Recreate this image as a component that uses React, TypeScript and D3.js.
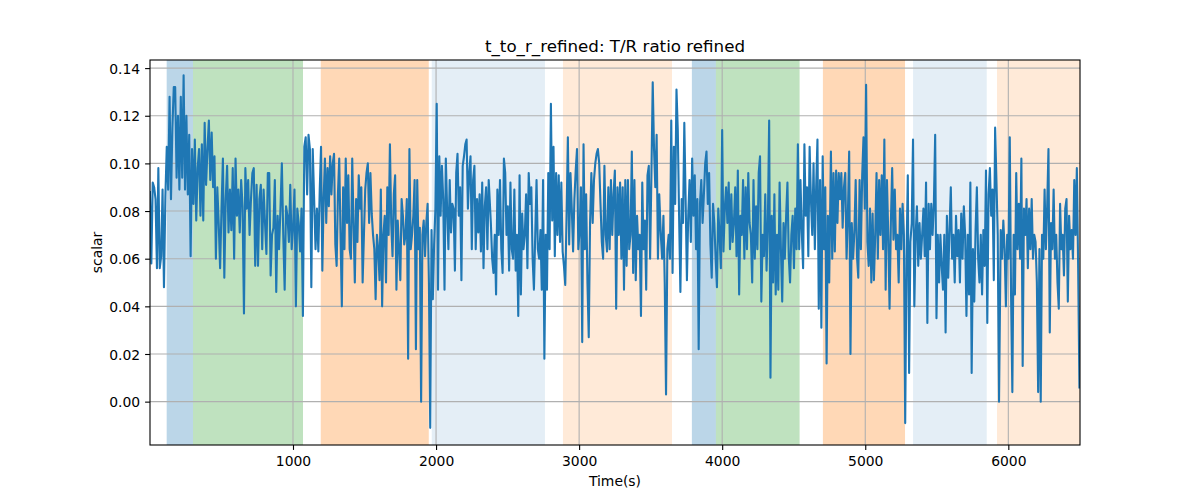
import { useEffect, useRef } from 'react';
import * as d3 from 'd3';

// T/R ratio samples in six stretches of time
const seg1 = [0.088, 0.058, 0.092, 0.09, 0.085, 0.056, 0.098, 0.056, 0.061, 0.089, 0.048, 0.086, 0.107, 0.089, 0.128, 0.085, 0.115, 0.132, 0.132, 0.094, 0.12, 0.089, 0.128, 0.094, 0.137, 0.089, 0.12, 0.087, 0.112, 0.061, 0.106, 0.083, 0.11, 0.076, 0.098, 0.106, 0.078, 0.108, 0.076, 0.117, 0.091, 0.106, 0.118, 0.093, 0.113, 0.09, 0.103, 0.06, 0.09, 0.075, 0.056, 0.081, 0.102, 0.052, 0.085, 0.099, 0.071, 0.089, 0.072, 0.098, 0.06, 0.102, 0.078, 0.089, 0.071, 0.093, 0.082, 0.037, 0.098, 0.081, 0.093, 0.07, 0.085, 0.096, 0.098, 0.057, 0.091, 0.057, 0.085, 0.091, 0.064, 0.089, 0.075, 0.062, 0.096, 0.096, 0.053, 0.07, 0.073, 0.093, 0.046, 0.078, 0.064, 0.081, 0.1, 0.07, 0.047, 0.082, 0.078, 0.067, 0.091, 0.064, 0.073, 0.089, 0.04, 0.081, 0.075, 0.063, 0.081, 0.036, 0.107, 0.111, 0.087, 0.112, 0.106, 0.048, 0.106, 0.085, 0.064, 0.081, 0.063, 0.089];
const seg2 = [0.107, 0.055, 0.085, 0.102, 0.075, 0.098, 0.082, 0.103, 0.087, 0.1, 0.104, 0.066, 0.057, 0.087, 0.102, 0.07, 0.04, 0.09, 0.064, 0.102, 0.075, 0.095, 0.064, 0.06, 0.102, 0.075, 0.05, 0.085, 0.067, 0.095, 0.081, 0.09, 0.05, 0.07, 0.089, 0.096, 0.1, 0.075, 0.096, 0.079, 0.07, 0.064, 0.043, 0.07, 0.064, 0.051, 0.089, 0.04, 0.07, 0.078, 0.05, 0.09, 0.07, 0.108, 0.075, 0.061, 0.087, 0.095, 0.047, 0.076, 0.064, 0.051, 0.085, 0.078, 0.066, 0.07, 0.085, 0.018, 0.106, 0.064, 0.07, 0.078, 0.093, 0.022, 0.093, 0.064, 0.073, 0.0, 0.07, 0.076, 0.061, 0.075, 0.083, 0.05, -0.011, 0.072, 0.043, 0.066, 0.081, 0.125, 0.047, 0.103, 0.078, 0.099, 0.085, 0.047, 0.102, 0.081, 0.064, 0.093, 0.071, 0.083, 0.081, 0.055, 0.096, 0.104, 0.078, 0.09, 0.051, 0.099, 0.103, 0.108, 0.11, 0.081, 0.096, 0.103, 0.064, 0.093, 0.099, 0.064, 0.085, 0.071, 0.087, 0.063, 0.092, 0.056, 0.082, 0.09, 0.064, 0.093];
const seg3 = [0.075, 0.06, 0.054, 0.07, 0.045, 0.089, 0.07, 0.093, 0.064, 0.054, 0.102, 0.096, 0.07, 0.082, 0.055, 0.092, 0.064, 0.06, 0.089, 0.055, 0.07, 0.036, 0.095, 0.045, 0.079, 0.064, 0.07, 0.087, 0.056, 0.096, 0.083, 0.09, 0.06, 0.047, 0.07, 0.093, 0.064, 0.06, 0.072, 0.047, 0.093, 0.018, 0.07, 0.047, 0.096, 0.064, 0.125, 0.076, 0.107, 0.061, 0.096, 0.07, 0.095, 0.067, 0.092, 0.063, 0.057, 0.049, 0.078, 0.111, 0.066, 0.096, 0.081, 0.063, 0.085, 0.097, 0.106, 0.064, 0.072, 0.09, 0.025, 0.108, 0.064, 0.087, 0.05, 0.027, 0.075, 0.096, 0.075, 0.093, 0.1, 0.104, 0.106, 0.1, 0.083, 0.067, 0.06, 0.099, 0.07, 0.063, 0.09, 0.064, 0.093, 0.07, 0.087, 0.097, 0.039, 0.09, 0.07, 0.092, 0.06, 0.09, 0.047, 0.093, 0.057, 0.093, 0.064, 0.07, 0.105, 0.054, 0.093, 0.051, 0.078, 0.064, 0.07, 0.036, 0.092, 0.064, 0.076, 0.047, 0.095, 0.099, 0.06, 0.095, 0.134, 0.106, 0.09, 0.112, 0.06, 0.087];
const seg4 = [0.07, 0.06, 0.078, 0.05, 0.003, 0.064, 0.07, 0.06, 0.118, 0.054, 0.107, 0.083, 0.131, 0.114, 0.078, 0.046, 0.085, 0.075, 0.117, 0.085, 0.051, 0.078, 0.093, 0.067, 0.102, 0.078, 0.095, 0.064, 0.085, 0.022, 0.083, 0.093, 0.075, 0.087, 0.1, 0.105, 0.083, 0.096, 0.066, 0.052, 0.083, 0.075, 0.06, 0.048, 0.081, 0.07, 0.056, 0.114, 0.063, 0.081, 0.09, 0.075, 0.092, 0.064, 0.087, 0.067, 0.075, 0.09, 0.061, 0.097, 0.045, 0.078, 0.07, 0.093, 0.06, 0.09, 0.064, 0.096, 0.075, 0.07, 0.05, 0.093, 0.06, 0.082, 0.064, 0.096, 0.103, 0.042, 0.07, 0.061, 0.087, 0.055, 0.075, 0.118, 0.01, 0.078, 0.05, 0.087, 0.045, 0.07, 0.047, 0.092, 0.064, 0.042, 0.075, 0.06, 0.078, 0.092, 0.061, 0.05, 0.07, 0.078, 0.056, 0.081, 0.064, 0.108, 0.064, 0.093, 0.071, 0.056, 0.108, 0.078, 0.09, 0.061, 0.107, 0.085, 0.07, 0.1, 0.064, 0.09, 0.11, 0.039, 0.093, 0.031, 0.103, 0.064, 0.09, 0.016, 0.078, 0.05];
const seg5 = [0.105, 0.06, 0.096, 0.063, 0.097, 0.075, 0.096, 0.085, 0.096, 0.073, 0.09, 0.096, 0.06, 0.078, 0.105, 0.02, 0.075, 0.06, 0.071, 0.093, 0.061, 0.052, 0.093, 0.064, 0.095, 0.111, 0.081, 0.133, 0.067, 0.057, 0.081, 0.05, 0.079, 0.051, 0.07, 0.096, 0.06, 0.093, 0.07, 0.095, 0.064, 0.11, 0.047, 0.093, 0.07, 0.039, 0.075, 0.098, 0.068, 0.089, 0.064, 0.07, 0.05, 0.081, 0.064, 0.083, 0.07, -0.009, 0.061, 0.095, 0.012, 0.067, 0.075, 0.11, 0.04, 0.07, 0.082, 0.057, 0.075, 0.06, 0.07, 0.081, 0.061, 0.092, 0.033, 0.083, 0.064, 0.083, 0.07, 0.083, 0.112, 0.035, 0.07, 0.05, 0.07, 0.057, 0.047, 0.07, 0.029, 0.078, 0.052, 0.072, 0.09, 0.06, 0.07, 0.05, 0.078, 0.061, 0.072, 0.05, 0.079, 0.06, 0.082, 0.07, 0.036, 0.07, 0.045, 0.092, 0.012, 0.064, 0.042, 0.072, 0.09, 0.06, 0.05, 0.07, 0.045, 0.072, 0.057, 0.097, 0.033, 0.087, 0.098, 0.078, 0.089, 0.051, 0.115, 0.093, 0.07, 0.0];
const seg6 = [0.072, 0.06, 0.076, 0.064, 0.04, 0.07, 0.06, 0.111, 0.045, 0.004, 0.07, 0.045, 0.096, 0.064, 0.083, 0.06, 0.102, 0.015, 0.081, 0.07, 0.085, 0.056, 0.081, 0.064, 0.085, 0.06, 0.07, 0.067, 0.05, 0.004, 0.064, 0.0, 0.07, 0.06, 0.089, 0.064, 0.082, 0.106, 0.029, 0.075, 0.064, 0.089, 0.06, 0.07, 0.05, 0.039, 0.083, 0.064, 0.07, 0.053, 0.081, 0.085, 0.042, 0.078, 0.064, 0.072, 0.06, 0.093, 0.07, 0.098, 0.057, 0.006];

// first and last sample time (s) of each stretch, samples evenly spaced between
const segStart = [0, 1196, 2383, 3571, 4760, 5947];
const segEnd = [1187, 2368, 3560, 4748, 5935, 6497];

// shaded phases
const spanStart = [117, 301, 1194, 1970, 2887, 3788, 3956, 4704, 5334, 5921];
const spanEnd = [301, 1070, 1949, 2761, 3649, 3956, 4541, 5278, 5849, 6510];
const spanPhase = ['a', 'b', 'c', 'd', 'e', 'a', 'b', 'c', 'd', 'e'];

const xTicks = [1000, 2000, 3000, 4000, 5000, 6000];
const yTicks = [0, 0.02, 0.04, 0.06, 0.08, 0.1, 0.12, 0.14];

const phaseFill: Record<string, [string, number]> = {
  a: ['#1f77b4', 0.3],
  b: ['#2ca02c', 0.3],
  c: ['#ff7f0e', 0.3],
  d: ['#1f77b4', 0.12],
  e: ['#ff7f0e', 0.16],
};

export default function App() {
  const svgRef = useRef<SVGSVGElement>(null);

  useEffect(() => {
    if (!svgRef.current) return;
    const svg = d3.select(svgRef.current);
    svg.selectAll('*').remove();

    const width = 1200;
    const height = 500;
    const margin = { top: 60, right: 120, bottom: 55, left: 150 };
    const innerWidth = width - margin.left - margin.right;
    const innerHeight = height - margin.top - margin.bottom;
    const font = 'DejaVu Sans, sans-serif';

    const segs = [seg1, seg2, seg3, seg4, seg5, seg6];
    const points: { t: number; v: number }[] = [];
    segs.forEach((vals, i) => {
      const step = (segEnd[i] - segStart[i]) / (vals.length - 1);
      vals.forEach((v, j) => points.push({ t: segStart[i] + j * step, v }));
    });

    const x = d3.scaleLinear().domain([0.5, 6501]).range([0, innerWidth]);
    const y = d3.scaleLinear().domain([-0.0182, 0.1434]).range([innerHeight, 0]);

    svg.append('rect').attr('width', width).attr('height', height).attr('fill', '#ffffff');

    const g = svg.append('g').attr('transform', `translate(${margin.left},${margin.top})`);

    g.append('defs').append('clipPath').attr('id', 'plot-clip')
      .append('rect').attr('width', innerWidth).attr('height', innerHeight);

    const plot = g.append('g').attr('clip-path', 'url(#plot-clip)');

    // phase spans
    plot.selectAll('.span')
      .data(spanStart.map((s, i) => ({ s, e: spanEnd[i], p: spanPhase[i] })))
      .enter().append('rect')
      .attr('x', d => x(d.s))
      .attr('width', d => x(d.e) - x(d.s))
      .attr('y', 0)
      .attr('height', innerHeight)
      .attr('fill', d => phaseFill[d.p][0])
      .attr('fill-opacity', d => phaseFill[d.p][1]);

    // grid
    plot.selectAll('.vgrid')
      .data(xTicks).enter().append('line')
      .attr('x1', d => x(d)).attr('x2', d => x(d))
      .attr('y1', 0).attr('y2', innerHeight)
      .attr('stroke', '#b0b0b0').attr('stroke-width', 1.1);
    plot.selectAll('.hgrid')
      .data(yTicks).enter().append('line')
      .attr('x1', 0).attr('x2', innerWidth)
      .attr('y1', d => y(d)).attr('y2', d => y(d))
      .attr('stroke', '#b0b0b0').attr('stroke-width', 1.1);

    const line = d3.line<{ t: number; v: number }>()
      .x(d => x(d.t))
      .y(d => y(d.v));

    plot.append('path')
      .datum(points)
      .attr('d', line)
      .attr('fill', 'none')
      .attr('stroke', '#1f77b4')
      .attr('stroke-width', 2.1)
      .attr('stroke-linejoin', 'round')
      .attr('stroke-linecap', 'square');

    // axes
    const xAxis = g.append('g')
      .attr('transform', `translate(0,${innerHeight})`)
      .call(d3.axisBottom(x).tickValues(xTicks).tickSize(4.9).tickPadding(5).tickFormat(d3.format('d')));
    const yAxis = g.append('g')
      .call(d3.axisLeft(y).tickValues(yTicks).tickSize(4.9).tickPadding(5).tickFormat(d3.format('.2f')));

    [xAxis, yAxis].forEach(ax => {
      ax.select('.domain').remove();
      ax.selectAll('line').attr('stroke', '#000').attr('stroke-width', 1.1);
      ax.selectAll('text')
        .attr('fill', '#000')
        .style('font-family', font)
        .style('font-size', '13.9px');
    });
    xAxis.selectAll('text').attr('dy', '0.78em');
    yAxis.selectAll('text').attr('dy', '0.36em');

    // spines
    g.append('rect')
      .attr('width', innerWidth)
      .attr('height', innerHeight)
      .attr('fill', 'none')
      .attr('stroke', '#000')
      .attr('stroke-width', 1.1);

    svg.append('text')
      .attr('x', margin.left + innerWidth / 2)
      .attr('y', 51.5)
      .attr('text-anchor', 'middle')
      .style('font-family', font)
      .style('font-size', '16.7px')
      .text('t_to_r_refined: T/R ratio refined');

    svg.append('text')
      .attr('x', margin.left + innerWidth / 2)
      .attr('y', 486)
      .attr('text-anchor', 'middle')
      .style('font-family', font)
      .style('font-size', '13.9px')
      .text('Time(s)');

    svg.append('text')
      .attr('transform', `translate(102,${margin.top + innerHeight / 2}) rotate(-90)`)
      .attr('text-anchor', 'middle')
      .style('font-family', font)
      .style('font-size', '13.9px')
      .text('scalar');
  }, []);

  return (
    <svg
      ref={svgRef}
      width={1200}
      height={500}
      style={{ position: 'absolute', left: 0, top: 0, display: 'block' }}
    />
  );
}
